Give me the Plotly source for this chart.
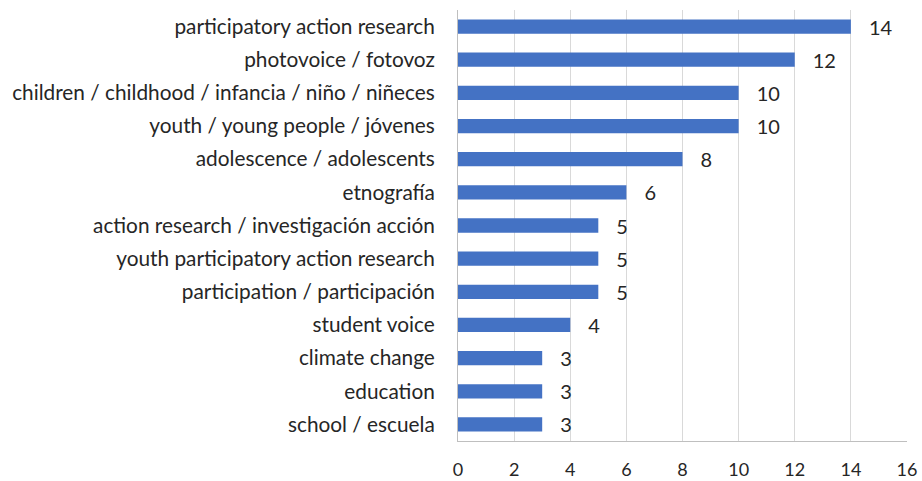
import plotly.graph_objects as go

categories = [
    "participatory action research",
    "photovoice / fotovoz",
    "children / childhood / infancia / niño / niñeces",
    "youth / young people / jóvenes",
    "adolescence / adolescents",
    "etnografía",
    "action research / investigación acción",
    "youth participatory action research",
    "participation / participación",
    "student voice",
    "climate change",
    "education",
    "school / escuela",
]
values = [14, 12, 10, 10, 8, 6, 5, 5, 5, 4, 3, 3, 3]
x_ticks = [0, 2, 4, 6, 8, 10, 12, 14, 16]

font_family = "Lato, Open Sans, sans-serif"

fig = go.Figure(
    go.Bar(
        y=categories,
        x=values,
        orientation="h",
        marker=dict(color="#4472C4", line=dict(width=0)),
        text=["\u2003" + str(v) for v in values],
        textposition="outside",
        constraintext="none",
        textfont=dict(size=20, color="#262626", family=font_family),
        cliponaxis=False,
        hoverinfo="skip",
    )
)

fig.update_layout(
    width=922,
    height=481,
    margin=dict(l=458, r=15, t=10, b=40),
    paper_bgcolor="white",
    plot_bgcolor="white",
    bargap=0.57,
    showlegend=False,
    font=dict(family=font_family, size=20, color="#262626"),
)
fig.update_yaxes(
    autorange="reversed",
    automargin=False,
    showgrid=False,
    showline=True,
    linecolor="#bfbfbf",
    linewidth=1,
    ticks="",
    ticklabelstandoff=18,
    tickfont=dict(size=20.8, color="#262626"),
)
fig.update_xaxes(
    range=[0, 16],
    automargin=False,
    tickvals=x_ticks,
    showgrid=True,
    gridcolor="#d9d9d9",
    gridwidth=1,
    showline=True,
    linecolor="#bfbfbf",
    linewidth=1,
    zeroline=False,
    ticks="",
    ticklabelstandoff=12,
    tickfont=dict(size=18, color="#262626"),
)

fig.write_html(
    "out.html",
    config={"displayModeBar": False, "staticPlot": True},
    post_script="document.body.style.margin='0';document.body.style.overflow='hidden';",
)
